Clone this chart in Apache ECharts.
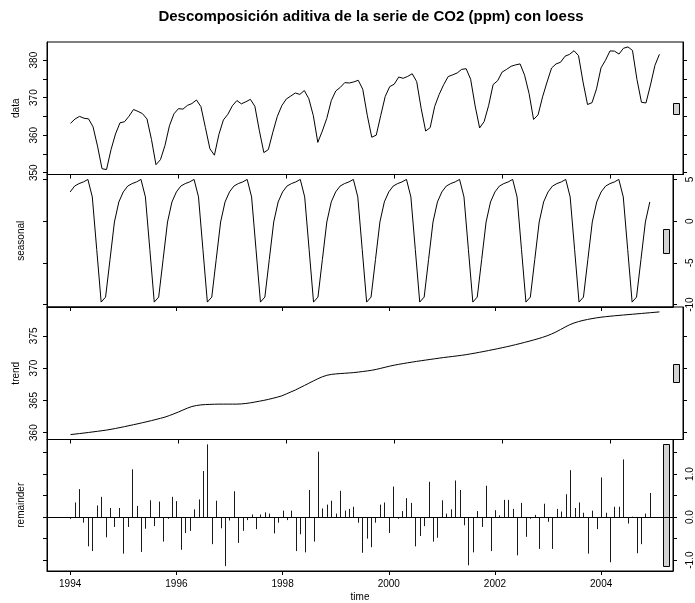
<!DOCTYPE html>
<html><head><meta charset="utf-8">
<script src="https://cdn.jsdelivr.net/npm/echarts@6/dist/echarts.min.js"></script>
<style>html,body{margin:0;padding:0;background:#fff}#c{width:695px;height:603px}</style>
</head><body><div id="c"></div>
<script>
const startYear = 1994;
const monthsPerYear = 12;
const titleText = 'Descomposición aditiva de la serie de CO2 (ppm) con loess';
const panelNames = ['data', 'seasonal', 'trend', 'remainder'];
const xAxisName = 'time';

const dataValues = [
  363.16, 364.32, 365.01, 364.51, 364.35, 362.23, 357.08, 351.07, 350.83, 356.13, 360.32, 363.30,
  363.58, 365.05, 366.84, 366.34, 365.73, 364.33, 358.86, 352.13, 353.48, 357.24, 362.51, 365.69,
  367.07, 366.94, 367.93, 368.43, 369.38, 367.61, 362.02, 356.37, 354.67, 360.20, 364.06, 365.58,
  367.84, 369.22, 368.35, 368.90, 369.55, 367.70, 361.19, 355.36, 356.16, 360.80, 365.02, 367.87,
  369.65, 370.43, 371.25, 370.86, 371.90, 369.73, 365.23, 358.08, 361.07, 364.48, 369.21, 371.78,
  372.73, 374.01, 373.90, 374.19, 374.62, 372.24, 365.33, 359.46, 360.00, 365.23, 370.32, 372.94,
  373.58, 375.49, 375.16, 375.66, 376.37, 374.27, 367.06, 361.10, 362.03, 367.66, 370.87, 373.45,
  375.61, 376.08, 376.57, 377.53, 377.71, 374.91, 367.80, 361.93, 363.62, 367.89, 373.49, 374.51,
  376.81, 377.54, 378.36, 378.73, 378.99, 375.99, 371.09, 364.19, 365.41, 370.21, 374.16, 377.89,
  378.99, 379.43, 381.04, 381.53, 382.51, 381.19, 374.19, 368.17, 368.66, 372.33, 377.93, 379.98,
  382.45, 382.40, 381.61, 383.16, 383.52, 382.58, 374.85, 368.77, 368.58, 373.35, 378.62, 381.56
];

const seasonalValues = [
  3.5, 4.2, 4.5, 4.7, 5.0, 2.9, -3.4, -9.7, -9.1, -4.6, -0.1, 2.3,
  3.5, 4.2, 4.5, 4.7, 5.0, 2.9, -3.4, -9.7, -9.1, -4.6, -0.1, 2.3,
  3.5, 4.2, 4.5, 4.7, 5.0, 2.9, -3.4, -9.7, -9.1, -4.6, -0.1, 2.3,
  3.5, 4.2, 4.5, 4.7, 5.0, 2.9, -3.4, -9.7, -9.1, -4.6, -0.1, 2.3,
  3.5, 4.2, 4.5, 4.7, 5.0, 2.9, -3.4, -9.7, -9.1, -4.6, -0.1, 2.3,
  3.5, 4.2, 4.5, 4.7, 5.0, 2.9, -3.4, -9.7, -9.1, -4.6, -0.1, 2.3,
  3.5, 4.2, 4.5, 4.7, 5.0, 2.9, -3.4, -9.7, -9.1, -4.6, -0.1, 2.3,
  3.5, 4.2, 4.5, 4.7, 5.0, 2.9, -3.4, -9.7, -9.1, -4.6, -0.1, 2.3,
  3.5, 4.2, 4.5, 4.7, 5.0, 2.9, -3.4, -9.7, -9.1, -4.6, -0.1, 2.3,
  3.5, 4.2, 4.5, 4.7, 5.0, 2.9, -3.4, -9.7, -9.1, -4.6, -0.1, 2.3,
  3.5, 4.2, 4.5, 4.7, 5.0, 2.9, -3.4, -9.7, -9.1, -4.6, -0.1, 2.3
];

const trendValues = [
  359.70, 359.78, 359.86, 359.94, 360.03, 360.12, 360.21, 360.30, 360.40, 360.52, 360.65, 360.79,
  360.93, 361.08, 361.23, 361.38, 361.54, 361.70, 361.87, 362.04, 362.22, 362.41, 362.65, 362.92,
  363.20, 363.50, 363.80, 364.05, 364.20, 364.30, 364.35, 364.38, 364.40, 364.42, 364.42, 364.42,
  364.42, 364.42, 364.45, 364.52, 364.62, 364.74, 364.87, 365.00, 365.15, 365.32, 365.50, 365.70,
  366.00, 366.30, 366.60, 366.95, 367.30, 367.65, 368.00, 368.35, 368.65, 368.88, 369.02, 369.10,
  369.15, 369.20, 369.25, 369.30, 369.38, 369.47, 369.56, 369.66, 369.80, 369.96, 370.13, 370.30,
  370.45, 370.58, 370.70, 370.82, 370.93, 371.04, 371.14, 371.24, 371.34, 371.44, 371.54, 371.63,
  371.72, 371.80, 371.89, 371.98, 372.08, 372.20, 372.32, 372.45, 372.58, 372.72, 372.86, 373.00,
  373.15, 373.30, 373.46, 373.63, 373.80, 373.98, 374.16, 374.35, 374.55, 374.76, 375.00, 375.28,
  375.60, 375.97, 376.35, 376.70, 376.98, 377.20, 377.38, 377.53, 377.66, 377.78, 377.88, 377.96,
  378.03, 378.10, 378.16, 378.22, 378.28, 378.34, 378.40, 378.46, 378.52, 378.58, 378.64, 378.70
];

const remainderValues = [
  -0.04, 0.34, 0.65, -0.13, -0.68, -0.79, 0.27, 0.47, -0.47, 0.21, -0.23, 0.21,
  -0.85, -0.23, 1.11, 0.26, -0.81, -0.27, 0.39, -0.21, 0.36, -0.57, -0.04, 0.47,
  0.37, -0.76, -0.37, -0.32, 0.18, 0.41, 1.07, 1.69, -0.63, 0.38, -0.26, -1.14,
  -0.08, 0.60, -0.60, -0.32, -0.07, 0.06, -0.28, 0.06, 0.11, 0.08, -0.38, -0.13,
  0.15, -0.07, 0.15, -0.79, -0.40, -0.82, 0.63, -0.57, 1.52, 0.20, 0.29, 0.38,
  0.08, 0.61, 0.15, 0.19, 0.24, -0.13, -0.83, -0.50, -0.70, -0.13, 0.29, 0.34,
  -0.37, 0.71, -0.04, 0.14, 0.44, 0.33, -0.68, -0.44, -0.21, 0.82, -0.57, -0.48,
  0.39, 0.08, 0.18, 0.85, 0.63, -0.19, -1.12, -0.82, 0.14, -0.23, 0.73, -0.79,
  0.16, 0.04, 0.40, 0.40, 0.19, -0.89, 0.33, -0.46, -0.04, 0.05, -0.74, 0.31,
  -0.11, -0.74, 0.19, 0.13, 0.53, 1.09, 0.21, 0.34, 0.10, -0.85, 0.15, -0.28,
  0.92, 0.10, -1.05, 0.24, 0.24, 1.34, -0.15, 0.01, -0.84, -0.63, 0.08, 0.56
];

const yearTicks = [1994, 1996, 1998, 2000, 2002, 2004];
const dataTicks = [350, 355, 360, 365, 370, 375, 380];
const dataLabels = [350, 360, 370, 380];
const seasonalTicks = [-10, -5, 0, 5];
const seasonalLabels = [-10, -5, 0, 5];
const trendTicks = [360, 365, 370, 375];
const trendLabels = [360, 365, 370, 375];
const remainderTicks = [-1, -0.5, 0, 0.5, 1, 1.5];
const remainderLabels = [-1, 0, 1];

// ---- build ----
const components = [dataValues, seasonalValues, trendValues, remainderValues];
const tickSets = [dataTicks, seasonalTicks, trendTicks, remainderTicks];
const labelSets = [dataLabels, seasonalLabels, trendLabels, remainderLabels];
const fmts = [v => String(v), v => String(v), v => String(v), v => v.toFixed(1)];

const times = dataValues.map((_, i) => startYear + i / monthsPerYear);
function rangeOf(a) { return [Math.min(...a), Math.max(...a)]; }
function extend(r) { const d = (r[1] - r[0]) * 0.04; return [r[0] - d, r[1] + d]; }
const xLim = extend(rangeOf(times));
const ranges = components.map(rangeOf);
const minRange = Math.min(...ranges.map(r => r[1] - r[0]));

const FONT = '"Liberation Sans", Arial, Helvetica, sans-serif';
const tops = [42, 174.5, 307, 439.5];
const panelH = 132.5;
const barX0 = 2005.174, barX1 = 2005.289;

const grids = [], xAxes = [], yAxes = [], series = [];
for (let i = 0; i < 4; i++) {
  grids.push({ left: 47, right: 12, top: tops[i], height: panelH, show: true,
    borderColor: '#000', borderWidth: 1, backgroundColor: 'transparent', containLabel: false });
  const last = i === 3;
  xAxes.push({ gridIndex: i, type: 'value', min: xLim[0], max: xLim[1],
    axisLine: { show: true, onZero: false, lineStyle: { color: '#000', width: 1 } },
    axisTick: { show: true, length: 4, customValues: yearTicks, lineStyle: { color: '#000' } },
    axisLabel: { show: last, customValues: yearTicks, margin: 8, formatter: v => String(v),
      color: '#000', fontFamily: FONT, fontSize: 10 },
    splitLine: { show: false },
    name: last ? xAxisName : '', nameLocation: 'middle', nameGap: 21,
    nameTextStyle: { color: '#000', fontFamily: FONT, fontSize: 10 } });
  const yl = extend(ranges[i]);
  const rightLab = i % 2 === 1;
  ['left', 'right'].forEach(pos => {
    const showLab = pos === 'left' ? !rightLab : rightLab;
    yAxes.push({ gridIndex: i, type: 'value', min: yl[0], max: yl[1], position: pos,
      axisLine: { show: true, onZero: false, lineStyle: { color: '#000', width: 1 } },
      axisTick: { show: true, length: 4, customValues: tickSets[i], lineStyle: { color: '#000' } },
      axisLabel: { show: showLab, customValues: labelSets[i], rotate: 90, margin: pos === 'left' ? 8 : 12,
        formatter: fmts[i], color: '#000', fontFamily: FONT, fontSize: 10 },
      splitLine: { show: false },
      name: pos === 'left' ? panelNames[i] : '', nameLocation: 'middle', nameGap: 21, nameRotate: 90,
      nameTextStyle: { color: '#000', fontFamily: FONT, fontSize: 10 } });
  });
  const pts = components[i].map((v, k) => [times[k], v]);
  if (i < 3) {
    series.push({ type: 'line', xAxisIndex: i, yAxisIndex: 2 * i, data: pts, showSymbol: false,
      symbol: 'none', lineStyle: { color: '#000', width: 1 }, silent: true, animation: false });
  } else {
    series.push({ type: 'custom', xAxisIndex: i, yAxisIndex: 2 * i, data: pts, silent: true,
      renderItem: (params, api) => {
        const x = api.value(0), y = api.value(1);
        const p0 = api.coord([x, 0]), p1 = api.coord([x, y]);
        const xx = Math.round(p0[0]) + 0.5;
        return { type: 'line', shape: { x1: xx, y1: p0[1], x2: xx, y2: p1[1] },
          style: { stroke: '#1a1a1a', lineWidth: 1 } };
      },
      markLine: { silent: true, symbol: 'none', label: { show: false }, animation: false,
        lineStyle: { color: '#000', width: 1, type: 'solid' }, data: [{ yAxis: 0 }] } });
  }
  const mid = (ranges[i][0] + ranges[i][1]) / 2;
  series.push({ type: 'custom', xAxisIndex: i, yAxisIndex: 2 * i, silent: true, clip: false,
    data: [[barX0, barX1, mid - minRange / 2, mid + minRange / 2]],
    renderItem: (params, api) => {
      const a = api.coord([api.value(0), api.value(3)]);
      const b = api.coord([api.value(1), api.value(2)]);
      return { type: 'rect', shape: { x: Math.round(a[0]) + 0.5, y: Math.round(a[1]) + 0.5,
        width: Math.round(b[0] - a[0]), height: Math.round(b[1] - a[1]) },
        style: { fill: '#d3d3d3', stroke: '#000', lineWidth: 1 } };
    } });
}

const chart = echarts.init(document.getElementById('c'), null, { renderer: 'canvas' });
chart.setOption({
  animation: false,
  backgroundColor: '#fff',
  title: { text: titleText, left: 366, top: 4, textAlign: 'center',
    textStyle: { fontFamily: FONT, fontWeight: 'bold', fontSize: 15, color: '#000' } },
  grid: grids, xAxis: xAxes, yAxis: yAxes, series: series
});
</script>
</body></html>
